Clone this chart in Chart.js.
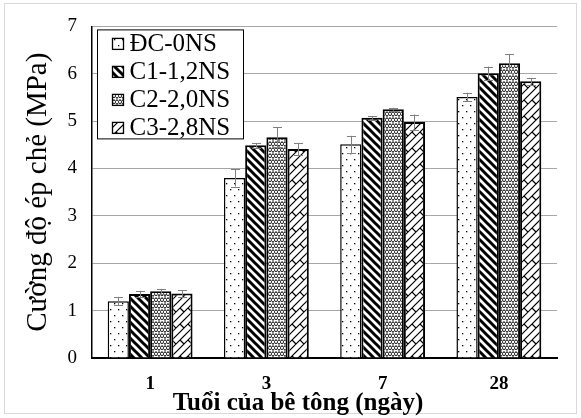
<!DOCTYPE html>
<html>
<head>
<meta charset="utf-8">
<script src="https://cdn.jsdelivr.net/npm/chart.js@4/dist/chart.umd.min.js"></script>
<style>
  html, body { margin: 0; padding: 0; background: #fff; }
  #wrap { width: 581px; height: 418px; }
</style>
</head>
<body>
<div id="wrap"><canvas id="chart" width="581" height="418"></canvas></div>
<script>
// Concrete age groups (days)
const categories = ['1', '3', '7', '28'];
const seriesNames = ['ĐC-0NS', 'C1-1,2NS', 'C2-2,0NS', 'C3-2,8NS'];

// Mean compressive strength (MPa)
const dcValues = [1.20, 3.80, 4.51, 5.51];
const c1Values = [1.35, 4.49, 5.07, 6.01];
const c2Values = [1.41, 4.66, 5.25, 6.22];
const c3Values = [1.36, 4.41, 4.98, 5.84];

// Standard deviations (MPa)
const dcErrors = [0.09, 0.18, 0.18, 0.09];
const c1Errors = [0.07, 0.05, 0.04, 0.14];
const c2Errors = [0.05, 0.21, 0.03, 0.20];
const c3Errors = [0.07, 0.13, 0.16, 0.07];

const yTicks = [0, 1, 2, 3, 4, 5, 6, 7];

const FONT = "'Liberation Serif', 'Times New Roman', serif";

// ---- fill patterns ----
function tile(w, h, draw) {
  const c = document.createElement('canvas');
  c.width = w; c.height = h;
  const g = c.getContext('2d');
  g.fillStyle = '#fff';
  g.fillRect(0, 0, w, h);
  g.strokeStyle = '#000';
  g.fillStyle = '#000';
  draw(g);
  return document.getElementById('chart').getContext('2d').createPattern(c, 'repeat');
}

const dotPattern = tile(8, 12, g => {
  g.fillRect(2, 3, 1.3, 1.3);
  g.fillRect(6, 9, 1.3, 1.3);
});

const stripePattern = tile(8, 8, g => {
  g.lineWidth = 3;
  g.lineCap = 'square';
  for (const k of [-8, 0, 8]) {
    g.beginPath(); g.moveTo(k - 1, -1); g.lineTo(k + 9, 9); g.stroke();
  }
});

const weavePattern = tile(6, 6, g => {
  g.lineWidth = 1;
  g.beginPath();
  g.moveTo(-1, 2.5); g.lineTo(1.5, 0.5); g.lineTo(3, 2.5); g.lineTo(4.5, 0.5); g.lineTo(7, 2.5);
  g.moveTo(-1.5, 5.5); g.lineTo(0, 3.5); g.lineTo(1.5, 5.5); g.lineTo(3, 3.5); g.lineTo(4.5, 5.5); g.lineTo(6, 3.5); g.lineTo(7.5, 5.5);
  g.stroke();
});

const brickPattern = tile(16, 16, g => {
  g.lineWidth = 1.2;
  g.beginPath();
  for (const c of [0, 8, 16, 24, 32]) {
    g.moveTo(-2, c + 2); g.lineTo(c + 2, -2);
  }
  g.moveTo(4, 4); g.lineTo(8, 8);
  g.moveTo(12, 4); g.lineTo(16, 8);
  g.moveTo(-4, 4); g.lineTo(0, 8);
  g.moveTo(4, 20); g.lineTo(8, 24);
  g.moveTo(12, -12); g.lineTo(16, -8);
  g.stroke();
});

const fills = [dotPattern, stripePattern, weavePattern, brickPattern];
const values = [dcValues, c1Values, c2Values, c3Values];
const errors = [dcErrors, c1Errors, c2Errors, c3Errors];

// ---- plugins ----
const frame = {
  id: 'frame',
  beforeDraw(chart) {
    const ctx = chart.ctx;
    ctx.save();
    ctx.fillStyle = '#fff';
    ctx.fillRect(0, 0, chart.width, chart.height);
    ctx.strokeStyle = '#d9d9d9';
    ctx.lineWidth = 1;
    ctx.strokeRect(4.5, 3.5, chart.width - 9, chart.height - 8);
    ctx.restore();
  }
};

const errorBars = {
  id: 'errorBars',
  afterDatasetsDraw(chart) {
    const ctx = chart.ctx;
    const y = chart.scales.y;
    ctx.save();
    ctx.strokeStyle = '#7f7f7f';
    ctx.lineWidth = 1;
    chart.data.datasets.forEach((ds, i) => {
      chart.getDatasetMeta(i).data.forEach((bar, j) => {
        const v = ds.data[j], e = ds.errors[j];
        const x = Math.round(bar.x) + 0.5;
        const top = y.getPixelForValue(v + e);
        const bot = y.getPixelForValue(v - e);
        ctx.beginPath();
        ctx.moveTo(x, top); ctx.lineTo(x, bot);
        ctx.moveTo(x - 4.5, Math.round(top) + 0.5); ctx.lineTo(x + 4.5, Math.round(top) + 0.5);
        ctx.moveTo(x - 4.5, Math.round(bot) + 0.5); ctx.lineTo(x + 4.5, Math.round(bot) + 0.5);
        ctx.stroke();
      });
    });
    ctx.restore();
  }
};

const boxLegend = {
  id: 'boxLegend',
  afterDraw(chart) {
    const ctx = chart.ctx;
    const a = chart.chartArea;
    const bx = a.left + 5.5, by = a.top + 3.5, bw = 146, bh = 109;
    ctx.save();
    ctx.fillStyle = '#fff';
    ctx.fillRect(bx, by, bw, bh);
    ctx.strokeStyle = '#000';
    ctx.lineWidth = 1;
    ctx.strokeRect(bx, by, bw, bh);
    ctx.font = '25px ' + FONT;
    ctx.textBaseline = 'middle';
    chart.data.datasets.forEach((ds, i) => {
      const cy = by + 14 + i * 28;
      ctx.fillStyle = ds.backgroundColor;
      ctx.fillRect(bx + 15, cy - 5.5, 11, 11);
      ctx.strokeStyle = '#000';
      ctx.lineWidth = 1.3;
      ctx.strokeRect(bx + 15, cy - 5.5, 11, 11);
      ctx.fillStyle = '#000';
      ctx.fillText(ds.label, bx + 32, cy + 1);
    });
    ctx.restore();
  }
};

const xTitle = {
  id: 'xTitle',
  afterDraw(chart) {
    const ctx = chart.ctx;
    const a = chart.chartArea;
    ctx.save();
    ctx.font = 'bold 25px ' + FONT;
    ctx.fillStyle = '#000';
    ctx.textAlign = 'center';
    ctx.textBaseline = 'alphabetic';
    ctx.fillText('Tuổi của bê tông (ngày)', a.left + (a.right - a.left) * 0.443, a.bottom + 52);
    ctx.restore();
  }
};

new Chart(document.getElementById('chart'), {
  type: 'bar',
  data: {
    labels: categories,
    datasets: seriesNames.map((name, i) => ({
      label: name,
      data: values[i],
      errors: errors[i],
      backgroundColor: fills[i],
      borderColor: '#000',
      borderWidth: i === 0 ? 1.5 : 2,
      borderSkipped: 'bottom',
      categoryPercentage: 0.73,
      barPercentage: 1
    }))
  },
  options: {
    responsive: false,
    animation: false,
    layout: { padding: { left: 0, right: 24, top: 26, bottom: 0 } },
    plugins: { legend: { display: false }, tooltip: { enabled: false } },
    scales: {
      x: {
        grid: { display: false, drawTicks: false },
        border: { color: '#000', width: 2 },
        ticks: { color: '#000', padding: 15, font: { family: FONT, size: 19, weight: 'bold' } },
        afterFit(s) { s.height = 60; }
      },
      y: {
        min: 0, max: 7,
        afterBuildTicks(s) { s.ticks = yTicks.map(v => ({ value: v })); },
        grid: { color: '#a6a6a6', lineWidth: 1, drawTicks: false },
        border: { color: '#000', width: 1.5 },
        ticks: { color: '#000', padding: 15, font: { family: FONT, size: 19 } },
        title: {
          display: true,
          text: 'Cường độ ép chẻ (MPa)',
          color: '#000',
          font: { family: FONT, size: 29 },
          padding: { top: 21, bottom: 0 }
        },
        afterFit(s) { s.width = 92; }
      }
    }
  },
  plugins: [frame, errorBars, boxLegend, xTitle]
});
</script>
</body>
</html>
